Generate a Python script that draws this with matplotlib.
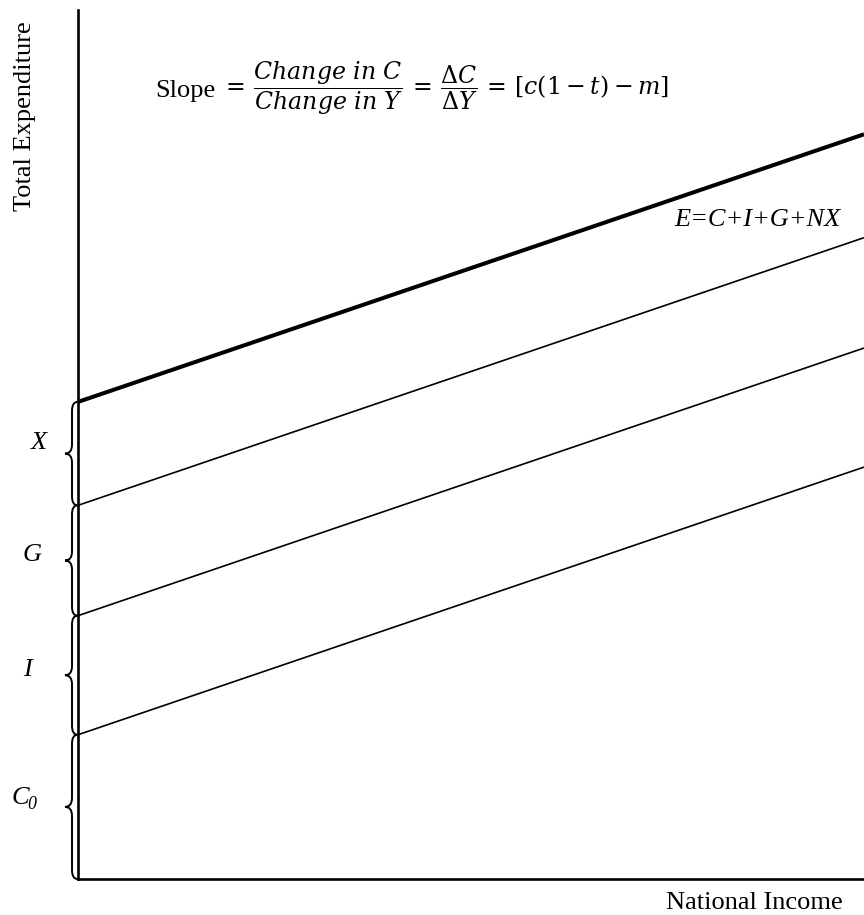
import matplotlib.pyplot as plt
from matplotlib.path import Path
from matplotlib.patches import PathPatch

plt.rcParams['font.family'] = 'Liberation Serif'
plt.rcParams['mathtext.fontset'] = 'custom'
plt.rcParams['mathtext.rm'] = 'DejaVu Serif'
plt.rcParams['mathtext.it'] = 'DejaVu Serif:italic'
plt.rcParams['mathtext.bf'] = 'DejaVu Serif:bold'

# ---------- data ----------
# autonomous spending stacked on the expenditure axis, bottom to top
comp_labels = ['C', 'I', 'G', 'X']
comp_heights = [16.6, 13.7, 12.7, 11.9]
slope = 0.308            # c(1-t) - m
income = [0, 100]
label_dx = [-58, -51, -46, -39]   # px left of the axis
label_dy = [9, 5, 6, 11]          # px above brace tip

FS = 19

fig = plt.figure(figsize=(8.64, 9.15), dpi=100)
ax = fig.add_axes([78 / 864, 36 / 915, 786 / 864, 869 / 915])
ax.set_xlim(0, 100)
ax.set_ylim(0, 100)
ax.set_xticks([])
ax.set_yticks([])
for s in ['top', 'right']:
    ax.spines[s].set_visible(False)
for s in ['left', 'bottom']:
    ax.spines[s].set_linewidth(1.9)

# px -> data units
sx = 786 / 100
sy = 869 / 100

# expenditure lines: C0, C0+I, C0+I+G, C0+I+G+X
base = 0.0
bottoms = []
for k, h in enumerate(comp_heights):
    bottoms.append(base)
    base += h
    ys = [base + slope * y for y in income]
    last = k == len(comp_heights) - 1
    ax.plot(income, ys, color='black', lw=2.9 if last else 1.2,
            solid_capstyle='butt', clip_on=False)


def brace(y0, y1):
    xs, xt, xe = -6 / sx, -13 / sx, -0.5 / sx
    r = 9 / sy
    ym = (y0 + y1) / 2
    verts = [(xe, y1), (xs, y1), (xs, y1 - r),
             (xs, ym + r), (xs, ym), (xt, ym),
             (xs, ym), (xs, ym - r),
             (xs, y0 + r), (xs, y0), (xe, y0)]
    codes = [Path.MOVETO, Path.CURVE3, Path.CURVE3,
             Path.LINETO, Path.CURVE3, Path.CURVE3,
             Path.CURVE3, Path.CURVE3,
             Path.LINETO, Path.CURVE3, Path.CURVE3]
    ax.add_patch(PathPatch(Path(verts, codes), fill=False, lw=1.4,
                           edgecolor='black', clip_on=False))


for k, (lab, b, h, dx, dy) in enumerate(zip(comp_labels, bottoms, comp_heights,
                                            label_dx, label_dy)):
    brace(b, b + h)
    ax.annotate(lab, xy=(0, b + h / 2), xytext=(dx, dy),
                textcoords='offset pixels', ha='center', va='center',
                fontsize=FS, fontstyle='italic', annotation_clip=False)
    if k == 0:
        # subscript 0 on C
        ax.annotate('0', xy=(0, b + h / 2), xytext=(dx + 12, dy - 7),
                    textcoords='offset pixels', ha='center', va='center',
                    fontsize=13, fontstyle='italic', annotation_clip=False)

ax.text(97, 75.8, 'E=C+I+G+NX', ha='right', va='center',
        fontsize=FS, fontstyle='italic')

fig.text(25 / 864, 1 - 116 / 915, 'Total Expenditure', rotation=90,
         ha='center', va='center', fontsize=FS)
fig.text(843 / 864, 1 - 903 / 915, 'National Income', ha='right',
         va='center', fontsize=FS)

fig.text(155 / 864, 1 - 88 / 915, 'Slope', ha='left', va='center_baseline',
         fontsize=FS)
fig.text(221 / 864, 1 - 88 / 915,
         r'$=\,\dfrac{Change\ in\ C}{Change\ in\ Y}\,=\,'
         r'\dfrac{\mathit{\Delta} C}{\mathit{\Delta} Y}\,=\,[c(1-t)-m]$',
         ha='left', va='center', fontsize=17)

fig.savefig('out.png', dpi=100)
